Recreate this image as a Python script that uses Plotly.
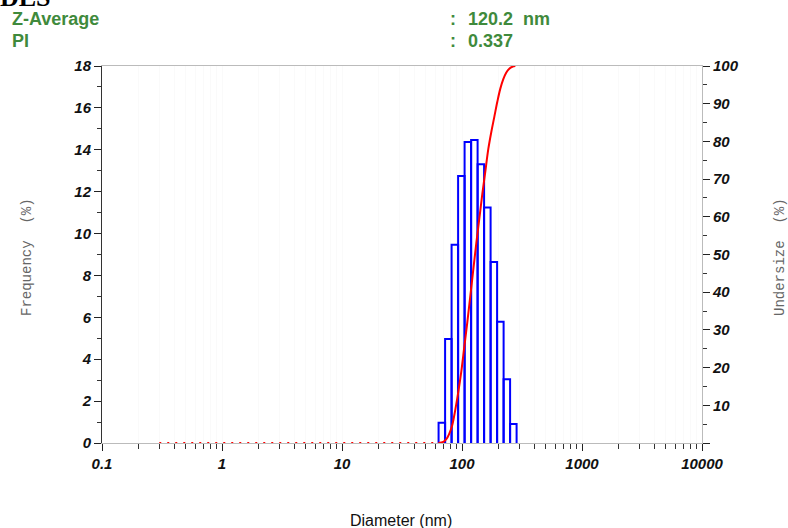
import plotly.graph_objects as go

# ---- data ----
bin_edges = [63.8, 72.3, 81.9, 92.8, 105.1, 119.1, 134.9, 152.8, 173.1, 196.1, 222.2, 251.6, 285.1]
frequency = [0.97, 4.97, 9.47, 12.75, 14.37, 14.47, 13.31, 11.25, 8.64, 5.79, 3.04, 0.91]

cum_diam = [63.5, 69.9, 74.0, 78.4, 83.0, 87.9, 93.1, 98.7, 104.5, 110.7, 117.3, 124.2, 131.6,
            139.4, 147.6, 156.4, 165.7, 175.5, 185.9, 196.9, 208.6, 220.9, 234.0, 247.9, 262.6, 278.2]
cum_under = [0, 0.3, 1.0, 2.5, 4.8, 8.8, 13.5, 19, 25.5, 32, 39, 46, 53,
             59.5, 66, 72, 78, 82.5, 86.5, 90.5, 94, 96.5, 98.3, 99.3, 99.8, 100]
zero_diam = [0.3, 63.5]
zero_under = [0, 0]

x_tickvals = [0.1, 1, 10, 100, 1000, 10000]
x_ticktext = ["0.1", "1", "10", "100", "1000", "10000"]
y_tickvals = list(range(0, 19, 2))
y2_tickvals = list(range(0, 101, 10))
y2_ticktext = [""] + [str(v) for v in y2_tickvals[1:]]

# bar outlines
bx, by = [], []
for i, h in enumerate(frequency):
    L, R = bin_edges[i], bin_edges[i + 1]
    bx += [L, L, R, R, None]
    by += [0, h, h, 0, None]

fig = go.Figure()
fig.add_trace(go.Scatter(x=bx, y=by, mode="lines", line=dict(color="#0000ff", width=2),
                         hoverinfo="skip", showlegend=False))
fig.add_trace(go.Scatter(x=zero_diam, y=zero_under, mode="lines", yaxis="y2",
                         line=dict(color="#ff0000", width=2, dash="2px,6px"), showlegend=False))
fig.add_trace(go.Scatter(x=cum_diam, y=cum_under, mode="lines", yaxis="y2",
                         line=dict(color="#ff0000", width=2, shape="spline"), showlegend=False))

tickfont = dict(family="Liberation Sans, Arial", size=15, color="#111", weight="bold", style="italic")

L_M, R_M, T_M, B_M = 102, 86, 66, 85
PW, PH = 788 - L_M - R_M, 528 - T_M - B_M

def px_x(x):
    return (x - L_M) / PW

def px_y(y):
    return (528 - B_M - y) / PH

fig.update_layout(
    width=788, height=528,
    margin=dict(l=L_M, r=R_M, t=T_M, b=B_M),
    paper_bgcolor="white", plot_bgcolor="white",
    xaxis=dict(type="log", range=[-1, 4], tickvals=x_tickvals, ticktext=x_ticktext,
               ticks="outside", ticklen=7, tickcolor="#222", tickfont=tickfont,
               showline=True, linecolor="#bbbbbb", linewidth=1, mirror=True,
               showgrid=False, zeroline=False,
               minor=dict(ticks="outside", ticklen=5, tickcolor="#333", dtick="D1",
                          showgrid=True, gridcolor="#fafafa")),
    yaxis=dict(range=[0, 18], tickvals=y_tickvals, ticks="outside", ticklen=7,
               tickcolor="#222", tickfont=tickfont, showline=True, linecolor="#333",
               linewidth=1, showgrid=False, zeroline=False,
               minor=dict(ticks="outside", ticklen=4, dtick=1, tickcolor="#333")),
    yaxis2=dict(range=[0, 100], overlaying="y", side="right", tickvals=y2_tickvals,
                ticktext=y2_ticktext, ticks="outside", ticklen=7, tickcolor="#222",
                tickfont=tickfont, showline=True, linecolor="#bbbbbb", linewidth=1,
                showgrid=False, zeroline=False,
                minor=dict(ticks="outside", ticklen=4, dtick=5, tickcolor="#333")),
)

green = "#3f8a3c"
gfont = dict(family="Liberation Sans, Arial", size=18, color=green, weight="bold")
ann = [
    dict(text="DLS", x=px_x(-2), y=px_y(14), xanchor="left", yanchor="bottom",
         font=dict(family="Liberation Serif, Times New Roman", size=26, color="black", weight="bold")),
    dict(text="Z-Average", x=px_x(10), y=px_y(19), xanchor="left", yanchor="middle", font=gfont),
    dict(text="PI", x=px_x(10), y=px_y(41), xanchor="left", yanchor="middle", font=gfont),
    dict(text=":", x=px_x(448), y=px_y(19), xanchor="left", yanchor="middle", font=gfont),
    dict(text=":", x=px_x(448), y=px_y(41), xanchor="left", yanchor="middle", font=gfont),
    dict(text="120.2  nm", x=px_x(466), y=px_y(19), xanchor="left", yanchor="middle", font=gfont),
    dict(text="0.337", x=px_x(466), y=px_y(41), xanchor="left", yanchor="middle", font=gfont),
    dict(text="Frequency  (%)", x=px_x(27), y=px_y(257), xanchor="center", yanchor="middle",
         textangle=-90, font=dict(family="Liberation Mono, Courier New", size=14, color="#666")),
    dict(text="Undersize  (%)", x=px_x(780), y=px_y(257), xanchor="center", yanchor="middle",
         textangle=-90, font=dict(family="Liberation Mono, Courier New", size=14, color="#666")),
    dict(text="Diameter (nm)", x=px_x(401), y=px_y(520), xanchor="center", yanchor="middle",
         font=dict(family="Liberation Sans, Arial", size=16, color="#111")),
]
for a in ann:
    a.update(xref="paper", yref="paper", showarrow=False)
fig.update_layout(annotations=ann)

fig.write_html("out.html")
